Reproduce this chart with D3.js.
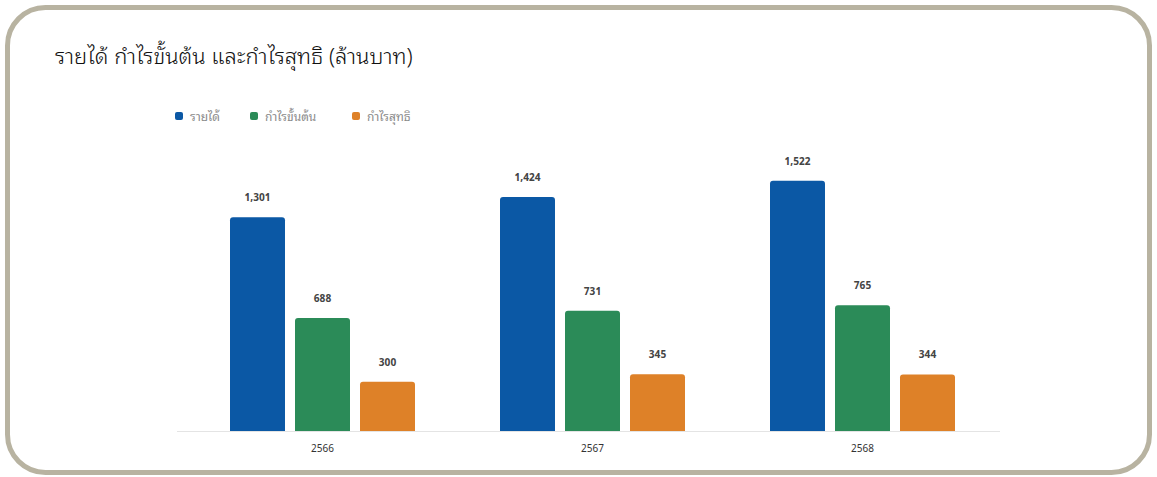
<!DOCTYPE html>
<html><head><meta charset="utf-8">
<script src="https://cdn.jsdelivr.net/npm/d3@7"></script>
<style>html,body{margin:0;padding:0;background:#fff;}svg{display:block;}</style>
</head><body>
<svg id="c" width="1157" height="477"></svg>
<script>
const title = "รายได้ กำไรขั้นต้น และกำไรสุทธิ (ล้านบาท)";
const categories = ["2566", "2567", "2568"];
const seriesNames = ["รายได้", "กำไรขั้นต้น", "กำไรสุทธิ"];
const revenue = [1301, 1424, 1522];
const grossProfit = [688, 731, 765];
const netProfit = [300, 345, 344];
const seriesColors = ["#0b58a5", "#2b8b58", "#de8128"];

const seriesValues = [revenue, grossProfit, netProfit];
const svg = d3.select("#c");
const font = "'Noto Sans Thai Looped','Noto Sans Thai','Noto Sans','DejaVu Sans',sans-serif";

// frame
svg.append("rect").attr("x", 7.5).attr("y", 7.5).attr("width", 1142).attr("height", 465)
  .attr("rx", 38).attr("ry", 38).attr("fill", "#fff").attr("stroke", "#b8b3a1").attr("stroke-width", 5);

svg.append("text").attr("x", 55).attr("y", 64).text(title)
  .attr("font-family", font).attr("font-size", 22).attr("font-weight", 330).attr("fill", "#111");

const x0 = d3.scaleBand().domain(categories).range([187.5, 997.5]).paddingInner(0).paddingOuter(0);
const x1 = d3.scaleBand().domain(seriesNames).range([0, 185]).paddingInner(0.154);
const xOff = (x0.bandwidth() - 185) / 2;
const y = d3.scaleLinear().domain([0, 1600]).range([431, 168]);

// axis
const ax = svg.append("g").attr("transform", "translate(0,431)")
  .call(d3.axisBottom(x0).tickSize(0).tickPadding(14));
ax.select(".domain").attr("stroke", "#e4e4e4").attr("d", "M177,0.5H1000");
ax.selectAll("text").attr("font-family", font).attr("font-size", 10).attr("fill", "#333");

const groups = svg.append("g").selectAll("g").data(categories).join("g")
  .attr("transform", d => `translate(${x0(d) + xOff},0)`);

groups.each(function(cat, ci) {
  const g = d3.select(this);
  seriesNames.forEach((s, si) => {
    const v = seriesValues[si][ci];
    g.append("path")
      .attr("d", () => {
        const bx = x1(s), bw = x1.bandwidth(), by = y(v), bh = y(0) - y(v), r = 3;
        return `M${bx},${by + bh}V${by + r}Q${bx},${by} ${bx + r},${by}H${bx + bw - r}Q${bx + bw},${by} ${bx + bw},${by + r}V${by + bh}Z`;
      })
      .attr("fill", seriesColors[si]);
    g.append("text").attr("x", x1(s) + x1.bandwidth() / 2).attr("y", y(v) - 16)
      .attr("text-anchor", "middle").attr("font-family", font).attr("font-size", 10)
      .attr("font-weight", "bold").attr("fill", "#444").text(d3.format(",")(v));
  });
});

// legend
const legendX = [175, 250, 352];
const lg = svg.append("g");
seriesNames.forEach((s, i) => {
  lg.append("rect").attr("x", legendX[i]).attr("y", 112).attr("width", 8).attr("height", 8)
    .attr("rx", 2).attr("fill", seriesColors[i]);
  lg.append("text").attr("x", legendX[i] + 15).attr("y", 120.5).text(s)
    .attr("font-family", font).attr("font-size", 12).attr("fill", "#8a8a8a");
});
</script>
</body></html>
